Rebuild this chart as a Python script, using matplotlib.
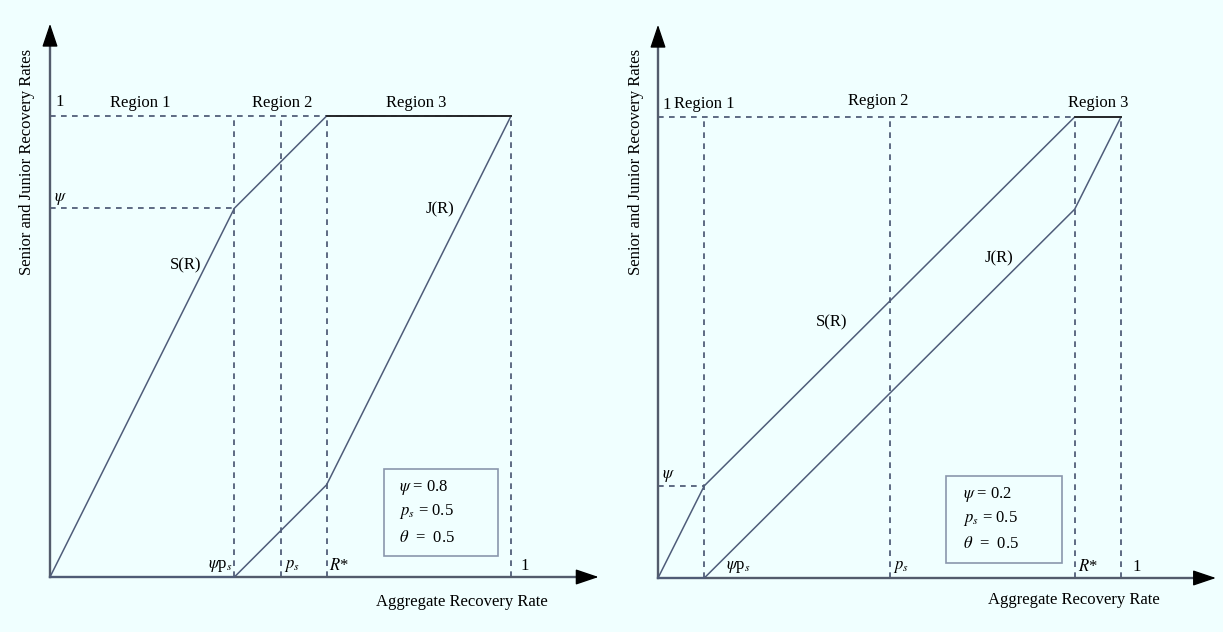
import matplotlib.pyplot as plt
from matplotlib.patches import Rectangle

plt.rcParams['font.family'] = ['Liberation Serif', 'DejaVu Serif']
plt.rcParams['mathtext.fontset'] = 'stix'

# panel parameters
psi = [0.8, 0.2]
ps = [0.5, 0.5]
theta = [0.5, 0.5]
rstar = [0.6, 0.9]

# S(R) and J(R) breakpoints, left panel
s_x1 = [0, 0.4, 0.6, 1.0]
s_y1 = [0, 0.8, 1.0, 1.0]
j_x1 = [0, 0.4, 0.6, 1.0]
j_y1 = [0, 0, 0.2, 1.0]
# right panel
s_x2 = [0, 0.1, 0.9, 1.0]
s_y2 = [0, 0.2, 1.0, 1.0]
j_x2 = [0, 0.1, 0.9, 1.0]
j_y2 = [0, 0, 0.8, 1.0]

bg = '#f0ffff'
lc = '#4f5d7a'
dc = '#45526e'
axc = '#535c6c'

fig = plt.figure(figsize=(12.23, 6.32), dpi=100, facecolor=bg)
W, H = 1223, 632

def make_ax(px0, px1, x0px, xunit, y0px, yunit):
    ax = fig.add_axes([px0 / W, 0, (px1 - px0) / W, 1])
    ax.set_xlim((px0 - x0px) / xunit, (px1 - x0px) / xunit)
    ax.set_ylim((y0px - H) / yunit, y0px / yunit)
    ax.axis('off')
    ax.set_facecolor(bg)
    return ax

ax1 = make_ax(0, 611, 50, 461, 577, 461)
ax2 = make_ax(611, 1223, 658, 463, 578, 461)

def panel(ax, k, sx, sy, jx, jy, xend, pos):
    p = psi[k]
    vx = [p * ps[k], ps[k], rstar[k], 1.0]
    dash = dict(color=dc, lw=1.2, ls=(0, (3.4, 3.2)))
    # dashed guides
    for v in vx:
        ax.plot([v, v], [0, 1], **dash)
    ax.plot([0, rstar[k] if k == 1 else 1.0], [1, 1], **dash)
    ax.plot([0, p * ps[k]], [p, p], **dash)
    # axes with arrows
    ax.plot([0, 0], [0, 1.17], color=axc, lw=1.7)
    ax.plot([0, xend - 0.03], [0, 0], color=axc, lw=1.7)
    hs = '-|>,head_length=0.8,head_width=0.27'
    ax.annotate('', xy=(0, 1.2), xytext=(0, 1.17),
                arrowprops=dict(arrowstyle=hs, color='black', lw=1,
                                mutation_scale=18, shrinkA=0, shrinkB=0))
    ax.annotate('', xy=(xend, 0), xytext=(xend - 0.03, 0),
                arrowprops=dict(arrowstyle=hs, color='black', lw=1,
                                mutation_scale=18, shrinkA=0, shrinkB=0))
    # curves
    ax.plot(sx, sy, color=lc, lw=1.1)
    ax.plot(jx, jy, color=lc, lw=1.1)
    ax.plot([rstar[k], 1.0], [1, 1], color='#222222', lw=1.3)

    fs = 12
    ax.text(pos['one'][0], pos['one'][1], '1', fontsize=fs, va='bottom')
    ax.text(pos['psi'], p + 0.003, r'$\psi$', fontsize=fs, va='bottom')
    for i, (x, y) in enumerate(pos['reg']):
        ax.text(x, y, 'Region %d' % (i + 1), fontsize=fs, ha='center', va='center')
    ax.text(*pos['S'], 'S(R)', fontsize=fs, ha='center', va='center')
    ax.text(*pos['J'], 'J(R)', fontsize=fs, ha='center', va='center')
    yb = 0.024
    ax.text(pos['psip'][0], yb, r'$\psi$p$_s$', fontsize=fs, ha=pos['psip'][1], va='center')
    ax.text(pos['ps'], yb, r'$p_s$', fontsize=fs, ha='left', va='center')
    ax.text(pos['rs'], yb, r'$R$*', fontsize=fs, ha='left', va='center')
    ax.text(pos['x1'], yb, '1', fontsize=fs, ha='left', va='center')
    ax.text(*pos['ylab'], 'Senior and Junior Recovery Rates', fontsize=fs,
            rotation=90, ha='center', va='center')
    ax.text(*pos['xlab'], 'Aggregate Recovery Rate', fontsize=fs,
            ha='center', va='center')
    # parameter box
    bx0, by0, bx1, by1 = pos['box']
    ax.add_patch(Rectangle((bx0, by0), bx1 - bx0, by1 - by0, fill=False,
                           edgecolor='#8a97ad', lw=1.2))
    tx = pos['tx']
    ty = pos['ty']
    ax.text(tx, ty[0], r'$\psi$ = %.1f' % p, fontsize=fs, va='center')
    ax.text(tx, ty[1], r'$p_s$ = %.1f' % ps[k], fontsize=fs, va='center')
    ax.text(tx, ty[2], r'$\theta$  =  %.1f' % theta[k], fontsize=fs, va='center')

panel(ax1, 0, s_x1, s_y1, j_x1, j_y1, 1.19, dict(
    one=(0.012, 1.012), psi=0.008,
    reg=[(0.195, 1.028), (0.503, 1.028), (0.794, 1.028)],
    S=(0.295, 0.675), J=(0.846, 0.798),
    psip=(0.397, 'right'), ps=0.507, rs=0.605, x1=1.02,
    ylab=(-0.05, 0.9), xlab=(0.894, -0.054),
    box=(0.7245, 0.0456, 0.972, 0.234), tx=0.757, ty=[0.195, 0.143, 0.085]))

panel(ax2, 1, s_x2, s_y2, j_x2, j_y2, 1.205, dict(
    one=(0.01, 1.008), psi=0.008,
    reg=[(0.099, 1.028), (0.475, 1.035), (0.95, 1.03)],
    S=(0.374, 0.555), J=(0.737, 0.694),
    psip=(0.147, 'left'), ps=0.507, rs=0.907, x1=1.024,
    ylab=(-0.0475, 0.902), xlab=(0.898, -0.048),
    box=(0.622, 0.0325, 0.873, 0.221), tx=0.659, ty=[0.182, 0.13, 0.074]))

fig.savefig('out.png', dpi=100, facecolor=bg)
